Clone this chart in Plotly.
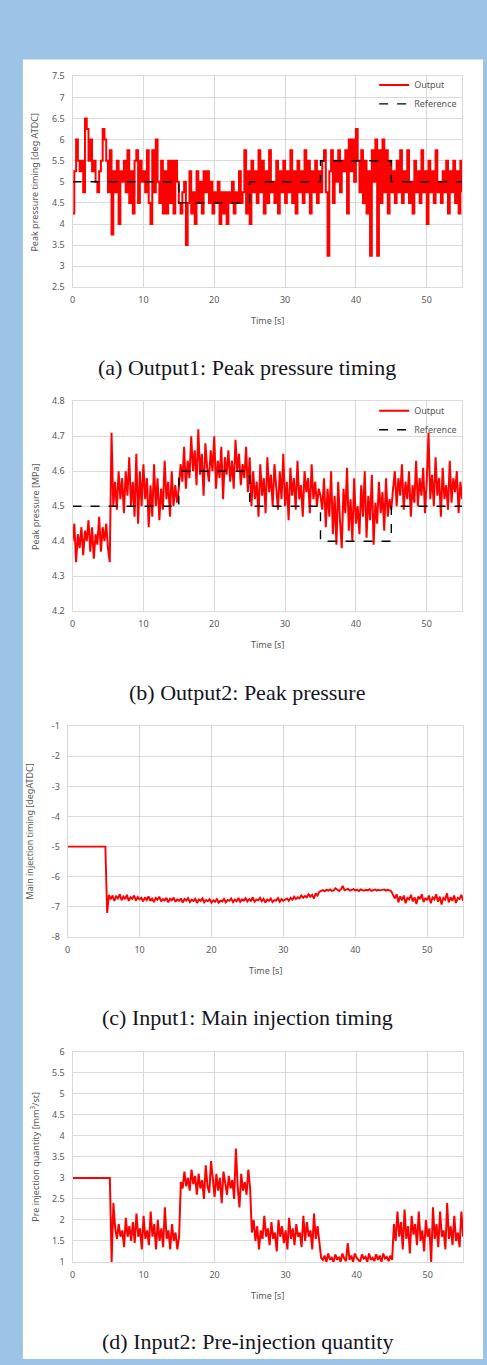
import plotly.graph_objects as go

W, H = 487, 1365
DT = 0.25  # sampling step of the read-off series [s]

# ---------------- data ----------------
out1 = [4.25, 5.25, 6, 5.5, 5.25, 5.5, 4.75, 6.5, 6.25, 5.5, 6, 5.25, 5.5, 5, 4.75, 5.25, 5.5, 6.25, 6, 5.5,
        4.75, 5.75, 3.75, 5.25, 4.75, 5.5, 4, 5.25, 5, 5.5, 4.75, 5.75, 4.5, 5.25, 4.25, 5.5, 5.75, 4.5, 5.5, 5,
        5.25, 4.75, 5.75, 4.5, 4, 5.75, 4.75, 6, 5, 4.5, 5.5, 4.25, 5.25, 4.25, 5.5, 4.5, 5.5, 4.25, 5.5, 5, 4.5,
        4.25, 4.75, 5.0, 3.5, 4.5, 5.25, 4.25, 4.75, 4.0, 5.25, 4.5, 5, 4.25, 5.25, 4.75, 5.25, 4.5, 5, 4.25, 4.75,
        4.5, 5, 4, 4.75, 4.25, 4.75, 4, 4.75, 4.5, 5, 4.25, 4.75, 4.5, 5.25, 4.5, 4.75, 5.75, 4.25, 5.25, 4,
        5.5, 4.75, 5.25, 4.5, 5.75, 4.75, 5.5, 4.25, 5.25, 4.5, 5.75, 4.75, 5, 4.5, 5.5, 4.25, 5.25, 4.75, 5.5, 4.5,
        5.25, 4.75, 5.75, 4.5, 5.25, 4.25, 5.5, 4.75, 5.25, 4.5, 5.75, 4.75, 5.5, 4.25, 5.25, 4.75, 5.5, 4.5, 5.25, 4.75,
        5.5, 5.75, 4.75, 3.25, 5.25, 5.75, 4.5, 5.5, 5.0, 5.75, 4.75, 5.5, 5.25, 5.75, 4.25, 6.0, 5.25, 6.0, 5.0, 6.25,
        5.5, 4.75, 5.75, 4.5, 5.5, 4.25, 5.25, 3.25, 5.75, 5.0, 6.0, 3.25, 5.75, 4.5, 6.0, 4.75, 5.75, 4.25, 5.5, 4.75,
        5.25, 4.5, 5.5, 4.75, 5.75, 4.5, 5.25, 4.75, 5.75, 4.5, 5.0, 4.25, 5.5, 4.75, 5.25, 4.5, 5.75, 4.75, 5.25, 4.0,
        5.5, 4.75, 5.25, 4.5, 5.75, 4.75, 5.0, 4.5, 5.25, 4.75, 5.5, 4.25, 5.25, 4.75, 5.5, 4.5, 5.25, 4.25, 5.5, 4.75]
ref1_t = [0, 15, 25, 35, 45, 55]
ref1 = [5, 4.5, 5, 5.5, 5, 5]

out2 = [4.40, 4.45, 4.34, 4.42, 4.38, 4.44, 4.36, 4.43, 4.40, 4.46, 4.37, 4.44, 4.35, 4.42, 4.39, 4.47, 4.37, 4.44, 4.40, 4.45, 4.38,
        4.34, 4.71, 4.50, 4.57, 4.49, 4.60, 4.52, 4.58, 4.48, 4.60, 4.53, 4.64, 4.50, 4.57, 4.47, 4.65, 4.45, 4.60, 4.50, 4.62,
        4.52, 4.58, 4.44, 4.56, 4.47, 4.62, 4.50, 4.58, 4.46, 4.55, 4.49, 4.63, 4.52, 4.57, 4.47, 4.60, 4.50, 4.56, 4.51, 4.55,
        4.62, 4.57, 4.67, 4.55, 4.63, 4.58, 4.70, 4.60, 4.66, 4.56, 4.72, 4.59, 4.65, 4.53, 4.68, 4.61, 4.57, 4.66, 4.60, 4.70,
        4.55, 4.63, 4.58, 4.67, 4.52, 4.64, 4.59, 4.66, 4.57, 4.63, 4.55, 4.69, 4.60, 4.65, 4.56, 4.62, 4.58, 4.67, 4.54, 4.64,
        4.50, 4.60, 4.52, 4.57, 4.47, 4.62, 4.53, 4.58, 4.48, 4.64, 4.54, 4.59, 4.50, 4.62, 4.55, 4.49, 4.60, 4.52, 4.65, 4.50,
        4.57, 4.46, 4.61, 4.53, 4.58, 4.49, 4.63, 4.52, 4.56, 4.47, 4.60, 4.54, 4.58, 4.48, 4.62, 4.52, 4.57, 4.50, 4.55, 4.53,
        4.49, 4.58, 4.44, 4.55, 4.47, 4.60, 4.42, 4.53, 4.39, 4.57, 4.46, 4.38, 4.55, 4.48, 4.61, 4.43, 4.52, 4.40, 4.58, 4.45,
        4.50, 4.42, 4.56, 4.47, 4.60, 4.41, 4.53, 4.46, 4.59, 4.39, 4.51, 4.45, 4.57, 4.48, 4.54, 4.43, 4.58, 4.47, 4.52, 4.49,
        4.55, 4.60, 4.50, 4.58, 4.53, 4.62, 4.49, 4.57, 4.52, 4.60, 4.47, 4.56, 4.51, 4.63, 4.50, 4.58, 4.53, 4.61, 4.48, 4.57,
        4.71, 4.52, 4.59, 4.50, 4.64, 4.53, 4.58, 4.47, 4.61, 4.52, 4.56, 4.49, 4.63, 4.51, 4.58, 4.54, 4.60, 4.48, 4.57, 4.52]
ref2_t = [0, 15, 25, 35, 45, 55]
ref2 = [4.5, 4.6, 4.5, 4.4, 4.5, 4.5]

in1 = [-5] * 22 + [
    -7.2, -6.6, -6.75, -6.62, -6.8, -6.65, -6.72, -6.58, -6.78, -6.66, -6.74, -6.6, -6.8, -6.68, -6.73, -6.62, -6.79, -6.67, -6.75,
    -6.7, -6.82, -6.68, -6.77, -6.65, -6.8, -6.72, -6.84, -6.7, -6.76, -6.66, -6.82, -6.74, -6.79, -6.7, -6.85, -6.73, -6.78, -6.69, -6.83,
    -6.75, -6.8, -6.72, -6.86, -6.74, -6.79, -6.71, -6.84, -6.76, -6.8, -6.73, -6.87, -6.75, -6.8, -6.72, -6.85, -6.77, -6.81, -6.74, -6.86,
    -6.78, -6.83, -6.74, -6.86, -6.79, -6.82, -6.73, -6.85, -6.77, -6.8, -6.72, -6.84, -6.76, -6.81, -6.7, -6.83, -6.75, -6.79, -6.71, -6.82,
    -6.74, -6.8, -6.68, -6.83, -6.76, -6.78, -6.7, -6.81, -6.73, -6.86, -6.75, -6.8, -6.72, -6.84, -6.77, -6.79, -6.71, -6.83, -6.74, -6.8,
    -6.76, -6.72, -6.8, -6.7, -6.76, -6.66, -6.74, -6.68, -6.72, -6.62, -6.7, -6.64, -6.68, -6.58, -6.66, -6.6, -6.72, -6.55, -6.62, -6.5,
    -6.47, -6.44, -6.48, -6.43, -6.46, -6.42, -6.47, -6.45, -6.38, -6.44, -6.47, -6.42, -6.3, -6.45, -6.43, -6.4, -6.46, -6.44, -6.41, -6.45,
    -6.43, -6.47, -6.42, -6.44, -6.46, -6.43, -6.45, -6.41, -6.47, -6.44, -6.42, -6.46, -6.43, -6.45, -6.44, -6.42, -6.46, -6.43, -6.45, -6.48,
    -6.6, -6.72, -6.58, -6.85, -6.65, -6.78, -6.62, -6.88, -6.7, -6.75, -6.6, -6.82, -6.68, -6.9, -6.66, -6.74, -6.58, -6.84, -6.7, -6.78,
    -6.62, -6.88, -6.69, -6.75, -6.58, -6.83, -6.66, -6.92, -6.7, -6.76, -6.55, -6.85, -6.68, -6.8, -6.62, -6.87, -6.7, -6.74, -6.6, -6.8]

in2 = [3] * 22 + [
    1.0, 2.4, 1.8, 1.55, 1.9, 1.6, 1.75, 1.35, 2.05, 1.6, 1.85, 1.5, 1.95, 1.45, 2.15, 1.6, 1.8, 1.3, 2.1, 1.55,
    1.75, 1.4, 2.2, 1.6, 1.9, 1.3, 2.0, 1.5, 1.8, 1.35, 2.3, 1.55, 1.75, 1.3, 1.9, 1.5, 1.7, 1.3, 1.6,
    2.9, 2.75, 3.15, 2.8, 3.0, 2.7, 3.2, 2.85, 3.05, 2.6, 3.1, 2.75, 2.95, 2.5, 3.3, 2.8, 2.65, 3.4, 2.9, 2.55,
    3.1, 2.7, 3.0, 2.4, 3.15, 2.85, 2.6, 3.05, 2.75, 2.95, 2.5, 3.7, 2.8, 2.3, 3.1, 2.7, 2.9, 2.6, 3.2, 2.75,
    1.7, 2.0, 1.5, 1.85, 1.3, 1.75, 1.55, 2.1, 1.6, 1.8, 1.4, 1.95, 1.55, 1.7, 1.25, 2.0, 1.6, 1.85, 1.45, 1.75,
    1.3, 2.05, 1.55, 1.8, 1.4, 1.9, 1.6, 1.7, 1.35, 2.1, 1.5, 1.95, 1.6, 1.75, 1.3, 2.15, 1.55, 1.85, 1.45, 1.1,
    1.05, 1.15, 1.0, 1.2, 1.05, 1.1, 1.0, 1.18, 1.05, 1.12, 1.0, 1.2, 1.08, 1.02, 1.45, 1.05, 1.15, 1.0, 1.2, 1.1,
    1.05, 1.0, 1.18, 1.08, 1.12, 1.0, 1.2, 1.05, 1.1, 1.02, 1.18, 1.05, 1.15, 1.0, 1.2, 1.08, 1.12, 1.02, 1.15, 1.05,
    1.9, 1.5, 2.2, 1.6, 1.95, 1.3, 2.25, 1.55, 1.85, 1.2, 2.1, 1.65, 1.9, 1.4, 2.2, 1.5, 1.75, 1.25, 2.0, 1.6,
    1.8, 1.0, 2.3, 1.55, 1.9, 1.35, 2.2, 1.6, 1.75, 1.3, 2.4, 1.55, 1.85, 1.4, 2.1, 1.5, 1.7, 1.35, 2.2, 1.6]

x_ticks = [0, 10, 20, 30, 40, 50]
y_ticks = [
    [2.5, 3, 3.5, 4, 4.5, 5, 5.5, 6, 6.5, 7, 7.5],
    [4.2, 4.3, 4.4, 4.5, 4.6, 4.7, 4.8],
    [-8, -7, -6, -5, -4, -3, -2, -1],
    [1, 1.5, 2, 2.5, 3, 3.5, 4, 4.5, 5, 5.5, 6],
]
y_ranges = [(2.5, 7.5), (4.2, 4.8), (-8, -1), (1, 6)]
y_titles = ["Peak pressure timing [deg ATDC]", "Peak pressure [MPa]",
            "Main injection timing [degATDC]", "Pre injection quantity [mm<sup>3</sup>/st]"]
captions = ["(a) Output1: Peak pressure timing", "(b) Output2: Peak pressure",
            "(c) Input1: Main injection timing", "(d) Input2: Pre-injection quantity"]


def tgrid(v):
    return [round(i * DT, 2) for i in range(len(v))]


def fmt(v):
    return "%g" % v  # plain hyphen-minus as in the reference


# ---------------- layout geometry (pixels) ----------------
areas = [(70, 462, 70, 283), (70, 462, 398, 610), (65, 463, 726, 939), (70, 463, 1055, 1267)]
cap_y = [364, 692, 1020, 1347]

px = lambda x: x / W
py = lambda y: 1 - y / H

RED = "#ff0000"
GRID = "#d9d9d9"
TICK = "#595959"
FONT = "Noto Sans"

fig = go.Figure()

series = [out1, out2, in1, in2]
shapes_ = ["hv", "linear", "linear", "linear"]
widths = [2.0, 2.0, 1.9, 2.0]
for i, s in enumerate(series):
    k = "" if i == 0 else str(i + 1)
    fig.add_trace(go.Scatter(
        x=tgrid(s), y=s, mode="lines", name="Output",
        line=dict(color=RED, width=widths[i], shape=shapes_[i]),
        xaxis="x" + k, yaxis="y" + k,
        showlegend=(i < 2), legend=("legend" if i == 0 else "legend2")))
    if i == 0:
        fig.add_trace(go.Scatter(x=ref1_t, y=ref1, mode="lines", name="Reference",
                                 line=dict(color="black", width=1.4, dash="dash", shape="hv"),
                                 xaxis="x", yaxis="y", legend="legend"))
    if i == 1:
        fig.add_trace(go.Scatter(x=ref2_t, y=ref2, mode="lines", name="Reference",
                                 line=dict(color="black", width=1.4, dash="dash", shape="hv"),
                                 xaxis="x2", yaxis="y2", legend="legend2"))

layout = dict(
    width=W, height=H, margin=dict(l=0, r=0, t=0, b=0),
    paper_bgcolor="#9dc3e6", plot_bgcolor="white",
    font=dict(family=FONT, size=9, color=TICK),
    shapes=[dict(type="rect", xref="paper", yref="paper", layer="below",
                 x0=px(20), x1=px(483), y0=0, y1=py(53),
                 fillcolor="white", line=dict(width=0))],
    annotations=[],
)

for i, (l, r, t, b) in enumerate(areas):
    k = "" if i == 0 else str(i + 1)
    lo, hi = y_ranges[i]
    layout["xaxis" + k] = dict(
        domain=[px(l), px(r)], anchor="y" + k, range=[0, 55], tickvals=x_ticks,
        showgrid=True, gridcolor=GRID, gridwidth=1, zeroline=False,
        showline=True, linecolor=GRID, mirror=True, ticks="",
        tickfont=dict(size=9, color=TICK), ticklabelstandoff=4)
    layout["yaxis" + k] = dict(
        domain=[py(b), py(t)], anchor="x" + k, range=[lo, hi],
        tickvals=y_ticks[i], ticktext=[fmt(v) for v in y_ticks[i]],
        showgrid=True, gridcolor=GRID, gridwidth=1, zeroline=False,
        showline=True, linecolor=GRID, mirror=True, ticks="",
        tickfont=dict(size=9, color=TICK), ticklabelstandoff=5)
    layout["annotations"].append(dict(
        text=y_titles[i], xref="paper", yref="paper", x=px(l - 38), y=py((t + b) / 2),
        textangle=-90, showarrow=False, xanchor="center", yanchor="middle",
        font=dict(family=FONT, size=9, color=TICK)))
    layout["annotations"].append(dict(
        text="Time [s]", xref="paper", yref="paper", x=px((l + r) / 2), y=py(b + 34),
        showarrow=False, xanchor="center", yanchor="middle",
        font=dict(family=FONT, size=9, color=TICK)))
    layout["annotations"].append(dict(
        text=captions[i], xref="paper", yref="paper", x=px(246), y=py(cap_y[i]),
        showarrow=False, xanchor="center", yanchor="middle",
        font=dict(family="Liberation Serif", size=22, color="#14141f")))

leg_common = dict(xanchor="right", yanchor="top", bgcolor="rgba(0,0,0,0)",
                  font=dict(family=FONT, size=9, color=TICK), itemwidth=30, tracegroupgap=0)
layout["legend"] = dict(x=px(462), y=py(64), **leg_common)
layout["legend2"] = dict(x=px(462), y=py(393), **leg_common)

fig.update_layout(**layout)
fig.write_html("out.html")
